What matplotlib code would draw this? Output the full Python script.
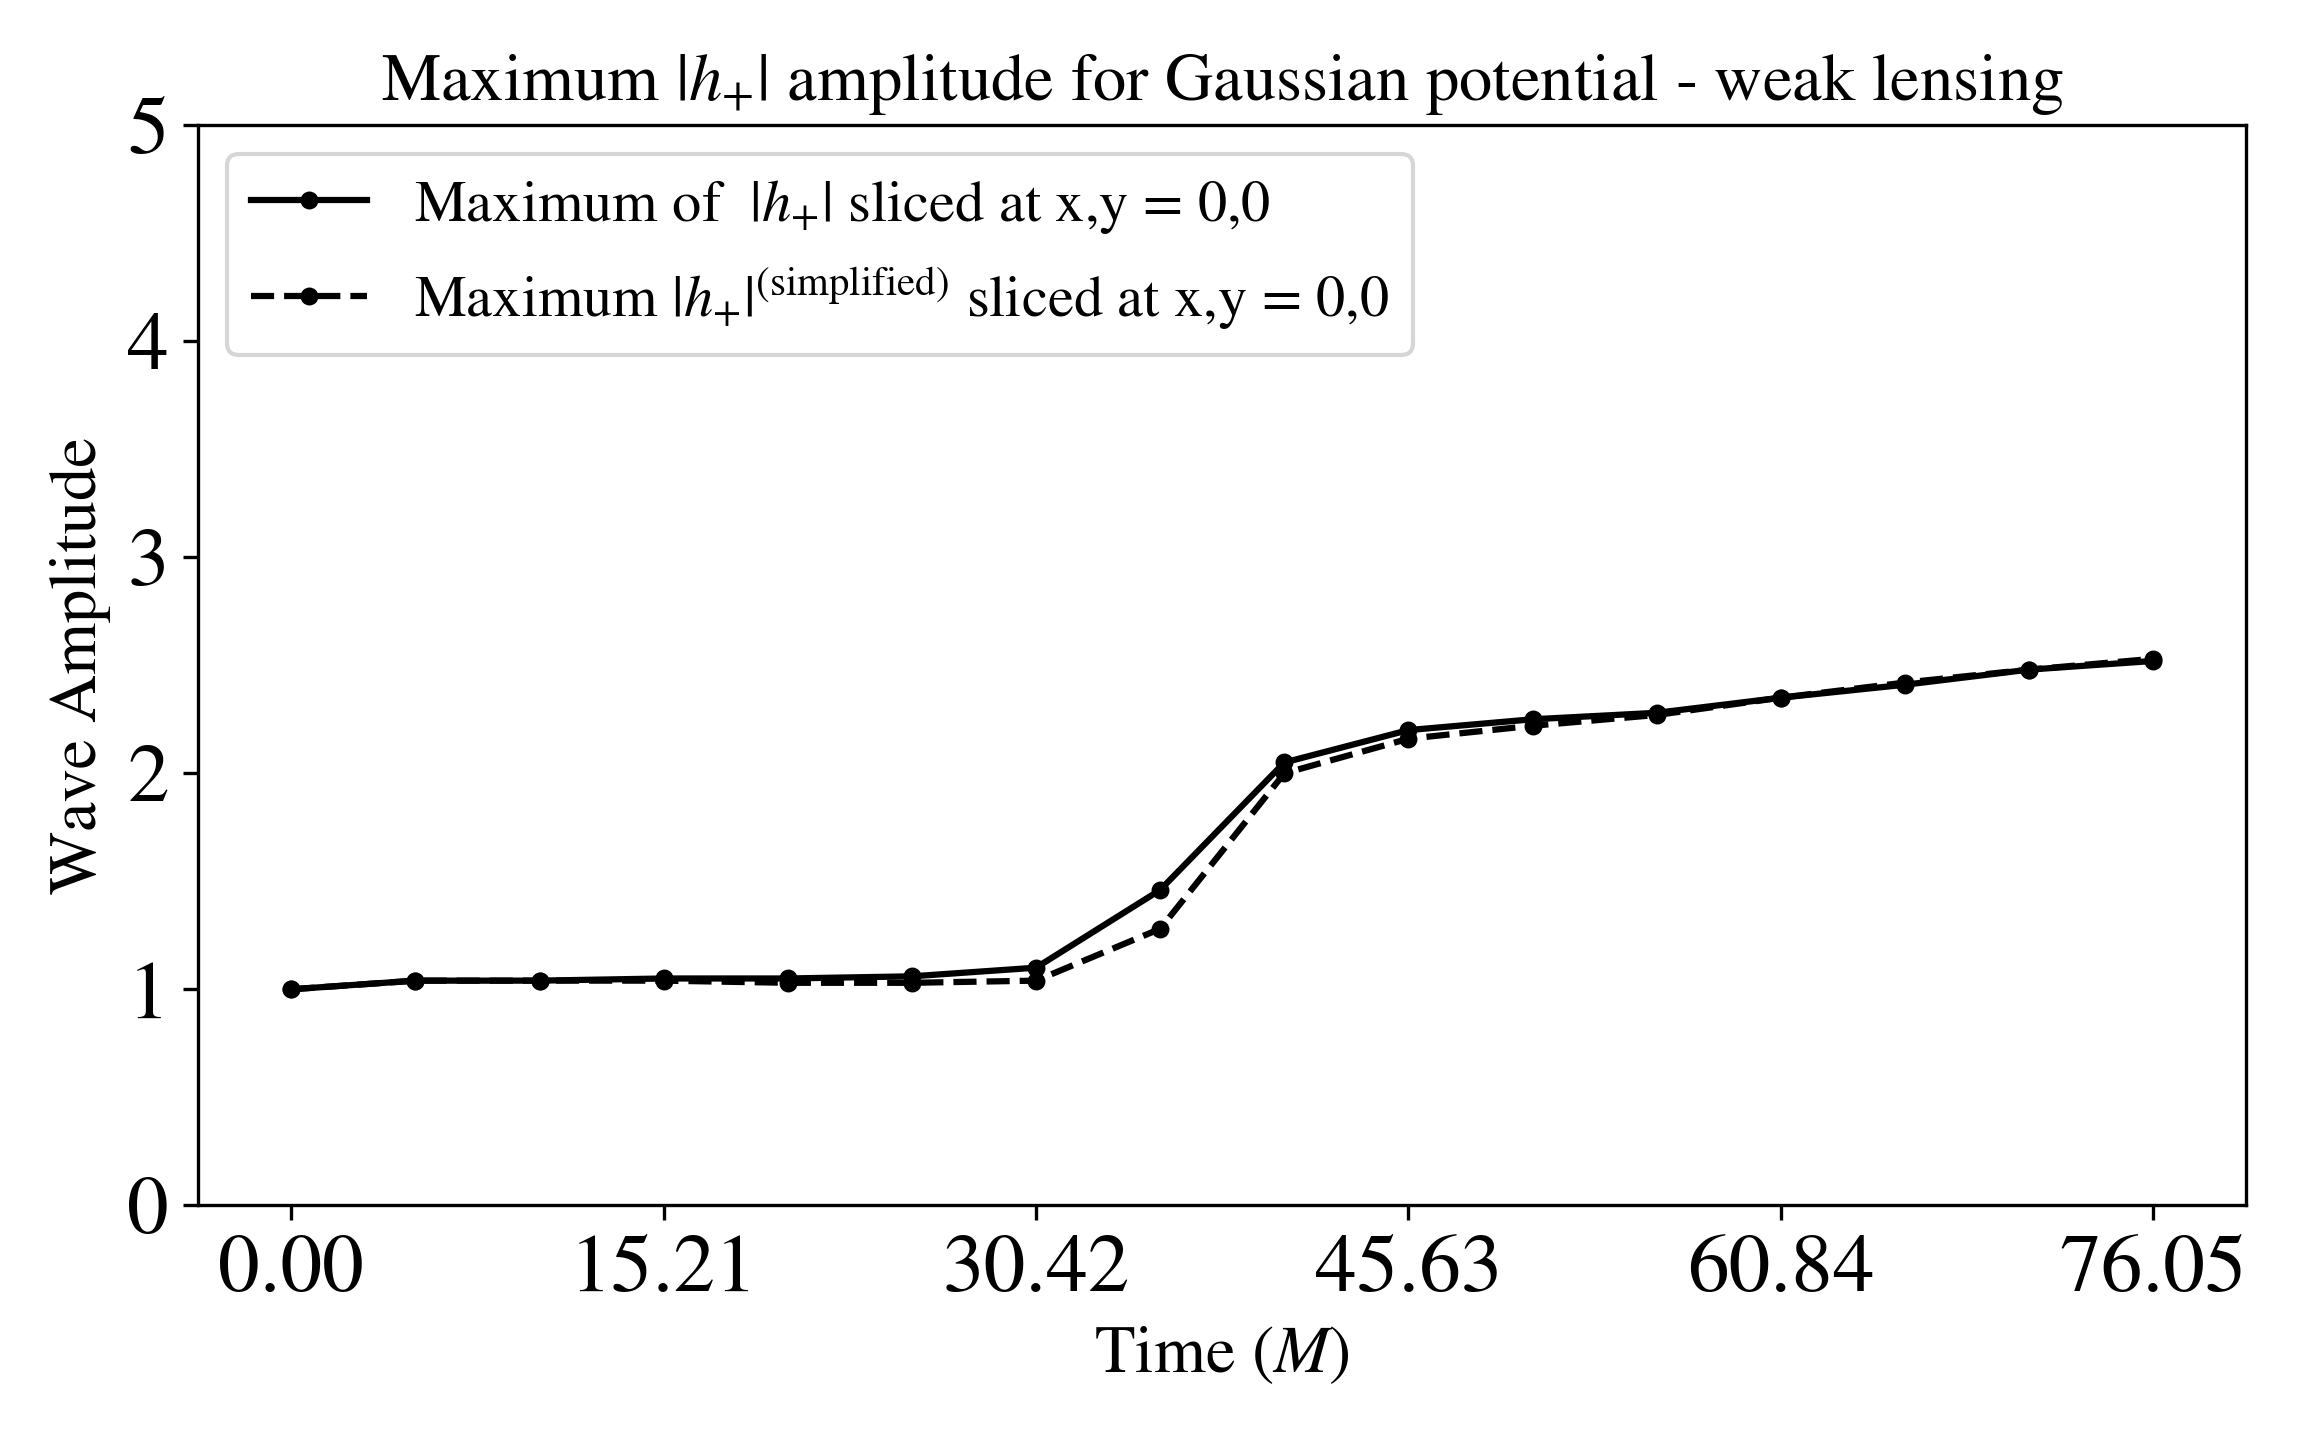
import numpy as np
from matplotlib import pyplot as plt

plt.rcParams['font.family'] = 'STIXGeneral'
plt.rcParams['mathtext.fontset'] = 'stix'

# time samples (units of M)
time = [0.00, 5.07, 10.14, 15.21, 20.28, 25.35, 30.42, 35.49,
        40.56, 45.63, 50.70, 55.77, 60.84, 65.91, 70.98, 76.05]

# maximum |h+| at x,y = 0,0
amp_full = [1.00, 1.04, 1.04, 1.05, 1.05, 1.06, 1.10, 1.46,
            2.05, 2.20, 2.25, 2.28, 2.35, 2.41, 2.48, 2.52]

# simplified version
amp_simple = [1.00, 1.04, 1.04, 1.04, 1.03, 1.03, 1.04, 1.28,
              2.00, 2.16, 2.22, 2.27, 2.35, 2.42, 2.48, 2.53]

xticks = [0.00, 15.21, 30.42, 45.63, 60.84, 76.05]

fig, ax = plt.subplots(figsize=(7.68, 4.8), dpi=300)
fig.subplots_adjust(left=0.086, right=0.975, top=0.913, bottom=0.163)

ax.plot(time, amp_full, '-', color='black', marker='o', markersize=3.3,
        linewidth=1.5, label=r'Maximum of  $|h_{+}|$ sliced at x,y = 0,0')
ax.plot(time, amp_simple, '--', color='black', marker='o', markersize=3.3,
        linewidth=1.5,
        label=r'Maximum $|h_{+}|^{\rm (simplified)}$ sliced at x,y = 0,0')

ax.set_ylim(0, 5)
ax.set_xticks(xticks)
ax.set_xticklabels([f"{t:.2f}" for t in xticks])
ax.set_yticks([0, 1, 2, 3, 4, 5])
ax.tick_params(axis='both', labelsize=20)

ax.set_title(r'Maximum $|h_{+}|$ amplitude for Gaussian potential - weak lensing',
             fontsize=16)
ax.set_xlabel(r'Time ($M$)', fontsize=16)
ax.set_ylabel('Wave Amplitude', fontsize=16)
ax.legend(loc='upper left', fontsize=14)

fig.savefig('out.png', dpi=300)
